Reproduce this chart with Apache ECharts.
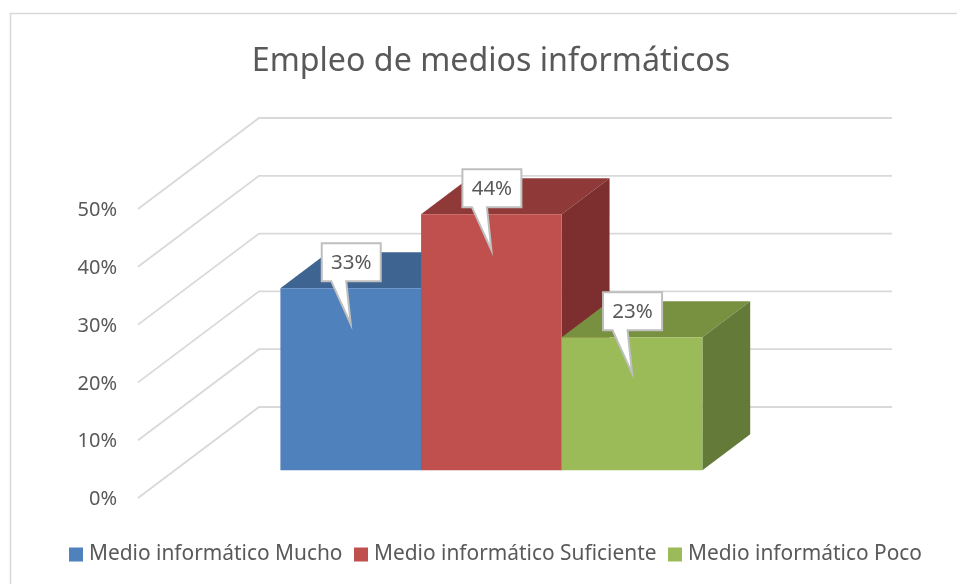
<!DOCTYPE html>
<html>
<head>
<meta charset="utf-8">
<title>Empleo de medios informáticos</title>
<style>
  html, body { margin: 0; padding: 0; background: #fff; }
  #main { width: 957px; height: 584px; }
</style>
<script src="https://cdn.jsdelivr.net/npm/echarts@6/dist/echarts.min.js"></script>
</head>
<body>
<div id="main"></div>
<script>
var categories = ['Empleo'];
var seriesNames = ['Medio informático Mucho', 'Medio informático Suficiente', 'Medio informático Poco'];
// alturas; la barra azul queda algo por debajo de su etiqueta
var seriesValues = [31.5, 44.3, 23.0];
var dataLabels = ['33%', '44%', '23%'];
var gridTicks = [0, 10, 20, 30, 40, 50];

var frontColors = ['#4f81bd', '#c0504d', '#9bbb59'];
var topColors = ['#3e6491', '#8f3a39', '#789141'];
var sideColors = ['#324f73', '#7c2f2e', '#647a38'];

var FONT = '"Noto Sans", sans-serif';
var TEXT_COLOR = '#595959';
var DEPTH_X = 121, DEPTH_Y = -91;     // fondo del grafico en pixeles
var BAR_NEAR = 0.305, BAR_FAR = 0.7;  // donde empieza y acaba la barra en el fondo

function shift(p, d) {
  return [p[0] + DEPTH_X * d, p[1] + DEPTH_Y * d];
}

// caja de la barra en el plano frontal
function barBox(api, idx, value) {
  var band = api.size([1, 0])[0];
  var w = band / 4.5; // 3 barras + hueco de 150%
  var c = api.coord([0, value]);
  var base = api.coord([0, 0]);
  var left = c[0] - 1.5 * w + idx * w;
  return { l: left, r: left + w, top: c[1], bottom: base[1] };
}

function poly(points, color) {
  return { type: 'polygon', shape: { points: points }, style: { fill: color } };
}

function renderBar(idx) {
  return function (params, api) {
    var b = barBox(api, idx, api.value(1));
    var fl = shift([b.l, b.top], BAR_NEAR), fr = shift([b.r, b.top], BAR_NEAR);
    var flb = shift([b.l, b.bottom], BAR_NEAR), frb = shift([b.r, b.bottom], BAR_NEAR);
    var bl = shift([b.l, b.top], BAR_FAR), br = shift([b.r, b.top], BAR_FAR);
    var brb = shift([b.r, b.bottom], BAR_FAR);
    return {
      type: 'group',
      children: [
        poly([fl, fr, br, bl], topColors[idx]),
        poly([fr, br, brb, frb], sideColors[idx]),
        poly([fl, fr, frb, flb], frontColors[idx])
      ]
    };
  };
}

function renderWall(params, api) {
  var cs = params.coordSys;
  var y = api.coord([0, api.value(0)])[1];
  var a = [cs.x, y];
  var b = shift(a, 1);
  var c = shift([cs.x + cs.width, y], 1);
  return {
    type: 'polyline',
    shape: { points: [a, b, c] },
    style: { fill: null, stroke: '#d9d9d9', lineWidth: 1.8 }
  };
}

function renderCallout(params, api) {
  var idx = api.value(0);
  var b = barBox(api, idx, api.value(1));
  var tip = shift([(b.l + b.r) / 2, b.top], BAR_NEAR);
  tip[1] += 39;
  var x0 = tip[0] - 29, x1 = tip[0] + 30, y0 = tip[1] - 84, y1 = tip[1] - 46;
  var peak = [tip[0], tip[1] - 3]; // el trazo alarga la punta
  return {
    type: 'group',
    children: [{
      type: 'polygon',
      shape: { points: [[x0, y0], [x1, y0], [x1, y1], [tip[0] - 4.5, y1], peak, [tip[0] - 19.5, y1], [x0, y1]] },
      style: { fill: '#fff', stroke: '#bfbfbf', lineWidth: 2 }
    }, {
      type: 'text',
      style: {
        x: (x0 + x1) / 2, y: (y0 + y1) / 2 + 1,
        text: dataLabels[idx],
        fill: TEXT_COLOR, font: '20.5px ' + FONT,
        align: 'center', verticalAlign: 'middle'
      }
    }]
  };
}

var series = [{
  type: 'custom',
  renderItem: renderWall,
  clip: false,
  silent: true,
  z: 1,
  encode: { y: 0 },
  data: gridTicks.map(function (t) { return [t]; })
}];

seriesNames.forEach(function (name, i) {
  series.push({
    name: name,
    type: 'custom',
    renderItem: renderBar(i),
    clip: false,
    z: 2,
    itemStyle: { color: frontColors[i] },
    encode: { x: 0, y: 1 },
    data: [[categories[0], seriesValues[i]]]
  });
});

series.push({
  type: 'custom',
  renderItem: renderCallout,
  clip: false,
  silent: true,
  z: 5,
  encode: { y: 1 },
  data: seriesValues.map(function (v, i) { return [i, v]; })
});

var myChart = echarts.init(document.getElementById('main'));
myChart.setOption({
  animation: false,
  backgroundColor: '#fff',
  title: {
    text: 'Empleo de medios informáticos',
    left: 486,
    top: 41,
    textAlign: 'center',
    textStyle: { color: TEXT_COLOR, fontFamily: FONT, fontSize: 32.2, fontWeight: 'normal' }
  },
  legend: {
    left: 64,
    top: 539,
    itemWidth: 14,
    itemHeight: 14,
    itemGap: 11.5,
    icon: 'rect',
    selectedMode: false,
    data: seriesNames,
    textStyle: { color: TEXT_COLOR, fontFamily: FONT, fontSize: 20.9, padding: [0, 0, 0, 1] }
  },
  grid: { left: 138, right: 186, top: 209, bottom: 86 },
  xAxis: { type: 'category', data: categories, show: false },
  yAxis: {
    type: 'value',
    min: 0,
    max: 50,
    interval: 10,
    axisLine: { show: false },
    axisTick: { show: false },
    splitLine: { show: false },
    axisLabel: {
      formatter: '{value}%',
      margin: 21,
      color: TEXT_COLOR,
      fontFamily: FONT,
      fontSize: 20,
      verticalAlign: 'top',
      lineHeight: 3
    }
  },
  graphic: [{
    type: 'polyline',
    silent: true,
    shape: { points: [[10.5, 584], [10.5, 13.5], [957, 13.5]] },
    style: { fill: null, stroke: '#d9d9d9', lineWidth: 1.5 }
  }],
  series: series
});
</script>
</body>
</html>
